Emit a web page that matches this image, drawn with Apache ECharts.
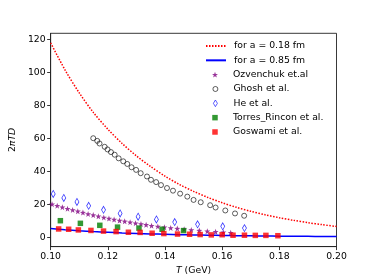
<!DOCTYPE html>
<html><head><meta charset="utf-8">
<script src="https://cdn.jsdelivr.net/npm/echarts@6/dist/echarts.min.js"></script>
<style>html,body{margin:0;padding:0;background:#fff}#c{width:374px;height:280px}</style>
</head><body><div id="c"></div>
<script>
const lineT = [0.100,0.105,0.110,0.115,0.120,0.125,0.130,0.135,0.140,0.145,0.150,0.155,0.160,0.165,0.170,0.175,0.180,0.185,0.190,0.195,0.200];
const redV = [117.8,101.5,87.5,75.5,65.5,56.8,49.3,42.8,37.0,32.0,27.8,24.1,20.9,18.1,15.7,13.6,11.8,10.2,8.8,7.6,6.5];
const blueV = [5.2,4.5,3.9,3.4,3.0,2.6,2.3,2.0,1.75,1.55,1.35,1.2,1.05,0.92,0.82,0.72,0.64,0.56,0.5,0.44,0.4];

const ozT = [0.1005,0.1023,0.1041,0.1059,0.1077,0.1095,0.1113,0.1131,0.1149,0.1167,0.1186,0.1204,0.1222,0.1241,0.1259,0.1278,0.1297,0.1316,0.1334,0.1353,0.1375,0.1398,0.1420,0.1443,0.1467,0.1492,0.1520,0.1548,0.1577,0.1604,0.1630];
const ozV = [20.0,19.1,18.2,17.3,16.5,15.7,14.9,14.1,13.4,12.7,12.0,11.3,10.7,10.1,9.6,9.1,8.5,8.0,7.5,7.0,6.5,6.0,5.6,5.2,4.8,4.4,4.0,3.6,3.3,3.0,2.7];

const ghT = [0.1149,0.1163,0.1171,0.1189,0.1199,0.1211,0.1224,0.1238,0.1254,0.1268,0.1283,0.1299,0.1315,0.1337,0.1351,0.1369,0.1386,0.1407,0.1428,0.1453,0.1478,0.1500,0.1525,0.1558,0.1577,0.1611,0.1645,0.1677];
const ghV = [60.0,58.4,56.8,54.8,53.2,51.6,50.0,47.8,46.0,44.4,42.4,40.8,38.8,36.8,34.8,33.4,31.6,29.8,28.2,26.4,24.6,22.6,21.2,19.4,18.0,16.2,14.4,13.0];

const heT = [0.1009,0.1046,0.1092,0.1133,0.1185,0.1243,0.1306,0.1370,0.1434,0.1514,0.1602,0.1678];
const heV = [26.2,23.8,21.4,19.0,16.6,14.4,12.4,10.8,9.2,7.8,6.6,5.5];

const trT = [0.1034,0.1104,0.1172,0.1234,0.1309,0.1390,0.1465];
const trV = [10.0,8.4,7.2,6.1,5.5,4.8,4.0];

const goT = [0.1028,0.1063,0.1097,0.1141,0.1185,0.1229,0.1272,0.1313,0.1355,0.1396,0.1444,0.1486,0.1523,0.1562,0.1600,0.1638,0.1678,0.1716,0.1753,0.1795];
const goV = [5.0,4.8,4.4,4.1,3.7,3.4,3.0,2.9,2.4,2.2,1.9,1.8,1.6,1.4,1.5,1.2,1.2,1.1,1.1,0.9];

const xTicks = [0.10,0.12,0.14,0.16,0.18,0.20];
const yTicks = [0,20,40,60,80,100,120];
const names = ['for a = 0.18 fm','for a = 0.85 fm','Ozvenchuk et.al','Ghosh et al.','He et al.','Torres_Rincon et al.','Goswami et al.'];

const zip = (a,b) => a.map((v,i)=>[v,b[i]]);
const FONT = 'DejaVu Sans';
const FS = 9.3;
const star = 'path://M0,-10 L2.35,-3.24 L9.51,-3.09 L3.8,1.24 L5.88,8.09 L0,4 L-5.88,8.09 L-3.8,1.24 L-9.51,-3.09 L-2.35,-3.24 Z';
const thinDiamond = 'path://M0,-10 L6,0 L0,10 L-6,0 Z';

const styles = [
  {color:'#ff0000'},
  {color:'#0000ff'},
  {symbol:star, size:6, itemStyle:{color:'#800080'}},
  {symbol:'circle', size:5, itemStyle:{color:'rgba(255,255,255,0)',borderColor:'#000',borderWidth:0.8}},
  {symbol:thinDiamond, size:[4,7], itemStyle:{color:'rgba(255,255,255,0)',borderColor:'#0000ff',borderWidth:0.8}},
  {symbol:'rect', size:5.5, itemStyle:{color:'#008000'}},
  {symbol:'rect', size:5.5, itemStyle:{color:'#ff0000'}}
];

const legendTextStyle = {fontFamily:FONT,fontSize:FS,color:'#000',lineHeight:14};
const legends = names.map((n,i)=>{
  const cy = 46 + i*14.33;
  if (i < 2) {
    return {orient:'vertical',left:205,top:cy-7,itemWidth:20,itemHeight:5,padding:0,
      textStyle:Object.assign({padding:[0,0,0,3]},legendTextStyle),
      data:[{name:n,itemStyle:{opacity:0,color:'rgba(0,0,0,0)',borderWidth:0}}]};
  }
  const st = styles[i];
  const w = Array.isArray(st.size)?st.size[0]:st.size;
  const h = Array.isArray(st.size)?st.size[1]:st.size;
  return {orient:'vertical',left:215-w/2,top:cy-7,itemWidth:w,itemHeight:h,padding:0,
    textStyle:Object.assign({padding:[0,0,0,233-(215-w/2)-w-5]},legendTextStyle),
    data:[{name:n,icon:st.symbol,itemStyle:st.itemStyle}]};
});

const chart = echarts.init(document.getElementById('c'), null, {renderer:'canvas'});
chart.setOption({
  animation:false,
  textStyle:{fontFamily:FONT},
  grid:{left:46,right:37.5,top:33.3,bottom:31.3,show:true,borderColor:'#222',borderWidth:0.9,backgroundColor:'transparent'},
  legend:legends,
  xAxis:{
    type:'value', min:0.10, max:0.20, interval:0.02,
    axisLine:{show:true,onZero:false,lineStyle:{color:'#222',width:0.9}},
    axisTick:{show:true,inside:false,length:3.5,lineStyle:{color:'#222',width:0.9}},
    axisLabel:{fontFamily:FONT,fontSize:FS,color:'#000',margin:5.5,formatter:v=>v.toFixed(2)},
    splitLine:{show:false},
    name:'{i|T} (GeV)', nameLocation:'middle', nameGap:14,
    nameTextStyle:{fontFamily:FONT,fontSize:FS,color:'#000',rich:{i:{fontFamily:FONT,fontSize:FS,fontStyle:'italic',color:'#000'}}}
  },
  yAxis:{
    type:'value', min:-5.7, max:123.6,
    axisLine:{show:true,onZero:false,lineStyle:{color:'#222',width:0.9}},
    axisTick:{show:true,inside:false,length:3.5,lineStyle:{color:'#222',width:0.9},customValues:yTicks},
    axisLabel:{fontFamily:FONT,fontSize:FS,color:'#000',margin:5,customValues:yTicks},
    splitLine:{show:false},
    name:'2{i|πTD}', nameLocation:'middle', nameGap:25, nameRotate:90,
    nameTextStyle:{fontFamily:FONT,fontSize:FS,color:'#000',rich:{i:{fontFamily:FONT,fontSize:FS,fontStyle:'italic',color:'#000'}}}
  },
  series:[
    {name:names[0],type:'line',data:zip(lineT,redV),smooth:0.3,showSymbol:false,symbol:'none',
     lineStyle:{color:'#ff0000',width:1.5,type:[1.5,1.5]},itemStyle:{color:'#ff0000'},z:2},
    {name:names[1],type:'line',data:zip(lineT,blueV),smooth:0.3,showSymbol:false,symbol:'none',
     lineStyle:{color:'#0000ff',width:1.5},itemStyle:{color:'#0000ff'},z:2},
    {name:names[2],type:'scatter',data:zip(ozT,ozV),symbol:styles[2].symbol,symbolSize:styles[2].size,itemStyle:styles[2].itemStyle,z:3},
    {name:names[3],type:'scatter',data:zip(ghT,ghV),symbol:styles[3].symbol,symbolSize:styles[3].size,itemStyle:styles[3].itemStyle,z:3},
    {name:names[4],type:'scatter',data:zip(heT,heV),symbol:styles[4].symbol,symbolSize:styles[4].size,itemStyle:styles[4].itemStyle,z:3},
    {name:names[5],type:'scatter',data:zip(trT,trV),symbol:styles[5].symbol,symbolSize:styles[5].size,itemStyle:styles[5].itemStyle,z:3},
    {name:names[6],type:'scatter',data:zip(goT,goV),symbol:styles[6].symbol,symbolSize:styles[6].size,itemStyle:styles[6].itemStyle,z:3}
  ]
});
</script></body></html>
